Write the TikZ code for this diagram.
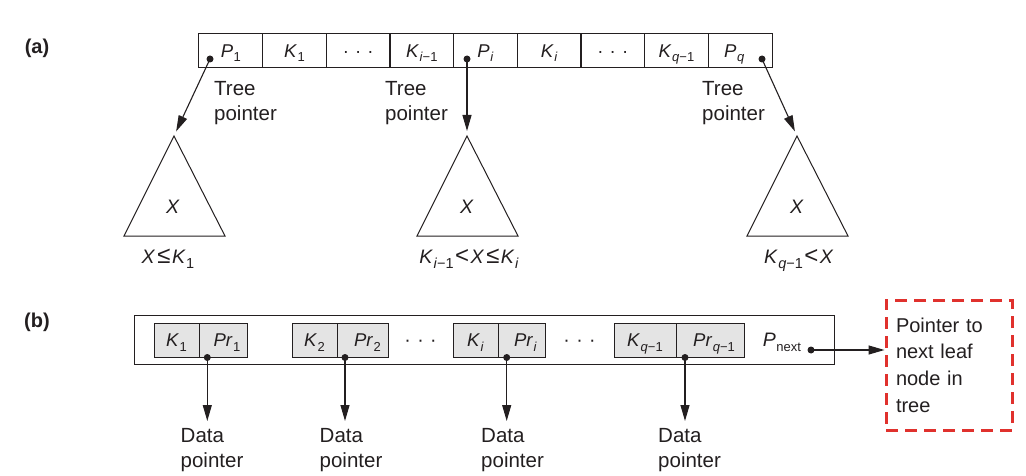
\documentclass[tikz,border=0pt]{standalone}
\usepackage{fontspec}
\setmainfont{Liberation Sans}
\usetikzlibrary{arrows.meta}
\definecolor{lc}{HTML}{231F20}
\definecolor{cellgray}{HTML}{E4E4E4}
\definecolor{redd}{HTML}{E0312D}
\newcommand{\sbs}[1]{\raisebox{-4.5pt}{\fontsize{13}{13}\selectfont #1}}
\newcommand{\sbl}[1]{\raisebox{-5pt}{\fontsize{14.5}{14.5}\selectfont #1}}
\newcommand{\vv}[1]{\textit{#1}\kern0.5pt}
\newcommand{\rl}[1]{\kern1.5pt{\fontsize{24}{24}\selectfont #1}\kern1.5pt}
\begin{document}
\begin{tikzpicture}[x=1pt,y=-1pt,
  cellA/.style={draw=lc, line width=1pt, minimum width=63.67pt, minimum height=33.7pt,
    inner sep=0pt, outer sep=0pt, text=lc, font=\fontsize{18.5}{18.5}\selectfont,
    text height=13.2pt, text depth=0pt},
  cellB/.style={draw=lc, fill=cellgray, line width=1pt, minimum height=34pt,
    inner sep=0pt, outer sep=0pt, text=lc, font=\fontsize{18.5}{18.5}\selectfont,
    text height=13.2pt, text depth=0pt},
  dotn/.style={circle, fill=lc, inner sep=0pt, minimum size=7pt},
  ptr/.style={draw=lc, line width=1.1pt, -{Triangle[length=16pt,width=9pt]}},
  lbl/.style={align=left, anchor=north west, inner sep=0pt, text=lc,
    font=\fontsize{20.5}{25}\selectfont},
  mathl/.style={inner sep=0pt, text=lc, font=\fontsize{19.5}{19.5}\selectfont},
  tri/.style={draw=lc, line width=1pt},
  partl/.style={inner sep=0pt, text=lc, font=\fontsize{20}{20}\selectfont\bfseries},
  nextbox/.style={draw=redd, line width=3pt, dash pattern=on 12pt off 7pt,
    minimum width=126pt, minimum height=130pt, inner sep=0pt, text width=106pt,
    align=left, text=lc, font=\fontsize{20}{26.6}\selectfont}
]
\useasboundingbox (0,0) rectangle (1026,476);

% ---------- (a) ----------
\node[partl] (la) at (37,48) {(a)};
\node[cellA] (a1) at (230.8,50.85) {\vv{P}\sbs{1}};
\node[cellA] (a2) at (294.5,50.85) {\vv{K}\sbs{1}};
\node[cellA] (a3) at (358.2,50.85) {·\,\,·\,\,·};
\node[cellA] (a4) at (421.8,50.85) {\vv{K}\sbs{\textit{i}−1}};
\node[cellA] (a5) at (485.5,50.85) {\vv{P}\sbs{\textit{i}}};
\node[cellA] (a6) at (549.2,50.85) {\vv{K}\sbs{\textit{i}}};
\node[cellA] (a7) at (612.8,50.85) {·\,\,·\,\,·};
\node[cellA] (a8) at (676.5,50.85) {\vv{K}\sbs{\textit{q}−1}};
\node[cellA] (a9) at (740.2,50.85) {\vv{P}\sbs{\textit{q}}\hspace*{12pt}};

\node[dotn] (d1) at (210,59) {};
\node[dotn] (di) at (467,59) {};
\node[dotn] (dq) at (762,59) {};

\node[lbl] (tp1) at (214,80.7) {Tree\\pointer};
\node[lbl] (tp2) at (385,80.7) {Tree\\pointer};
\node[lbl] (tp3) at (702,80.7) {Tree\\pointer};

\coordinate (t1) at (174,136);
\coordinate (t2) at (467,136);
\coordinate (t3) at (797,136);
\draw[tri] (t1) -- (124,236) -- (225,236) -- cycle;
\draw[tri] (t2) -- (417,236) -- (518,236) -- cycle;
\draw[tri] (t3) -- (747,236) -- (848,236) -- cycle;

\draw[ptr, shorten >=5pt] (d1.center) -- (t1);
\draw[ptr, shorten >=5pt] (di.center) -- (t2);
\draw[ptr, shorten >=5pt] (dq.center) -- (t3);

\node[mathl] (x1) at (173,207) {\textit{X}};
\node[mathl] (x2) at (467,207) {\textit{X}};
\node[mathl] (x3) at (797,207) {\textit{X}};

\node[mathl, anchor=base] (r1) at (168,263) {\vv{X}\rl{≤}\vv{K}\sbl{1}};
\node[mathl, anchor=base] (r2) at (469,263) {\vv{K}\sbl{\textit{i}−1}\rl{<}\vv{X}\rl{≤}\vv{K}\sbl{\textit{i}}};
\node[mathl, anchor=base] (r3) at (799,263) {\vv{K}\sbl{\textit{q}−1}\rl{<}\vv{X}};

% ---------- (b) ----------
\node[partl] (lb) at (37,322) {(b)};
\node[draw=lc, line width=1pt, minimum width=700pt, minimum height=49pt,
  inner sep=0pt, outer sep=0pt] (leaf) at (484,339.5) {};

\node[cellB, minimum width=45pt] (k1) at (176.5,340) {\vv{K}\sbs{1}};
\node[cellB, minimum width=48pt] (p1) at (223,340) {\hspace*{8pt}\vv{Pr}\sbs{1}};
\node[cellB, minimum width=45pt] (k2) at (314.5,340) {\vv{K}\sbs{2}};
\node[cellB, minimum width=51pt] (p2) at (362.5,340) {\hspace*{10pt}\vv{Pr}\sbs{2}};
\node[cellB, minimum width=45pt] (ki) at (475.5,340) {\vv{K}\sbs{\textit{i}}};
\node[cellB, minimum width=47pt] (pi) at (521.5,340) {\hspace*{8pt}\vv{Pr}\sbs{\textit{i}}};
\node[cellB, minimum width=62pt] (kq) at (645,340) {\vv{K}\sbs{\textit{q}−1}};
\node[cellB, minimum width=68pt] (pq) at (710,340) {\hspace*{8pt}\vv{Pr}\sbs{\textit{q}−1}};

\node[mathl, anchor=base] (e1) at (420.5,346.5) {·\,\,·\,\,·};
\node[mathl, anchor=base] (e2) at (579.5,346.5) {·\,\,·\,\,·};

\node[mathl, anchor=base] (pn) at (782,346.5) {\vv{P}\sbs{next}};

\node[dotn] (b1) at (207.3,357.5) {};
\node[dotn] (b2) at (345,357.5) {};
\node[dotn] (b3) at (506.7,357.5) {};
\node[dotn] (b4) at (685,357.5) {};
\node[dotn] (dn) at (811,350) {};

\coordinate (q1) at (207.3,421);
\coordinate (q2) at (345,421);
\coordinate (q3) at (506.7,421);
\coordinate (q4) at (685,421);
\draw[ptr] (b1.center) -- (q1);
\draw[ptr] (b2.center) -- (q2);
\draw[ptr] (b3.center) -- (q3);
\draw[ptr] (b4.center) -- (q4);

\node[lbl] (dp1) at (180.5,427.7) {Data\\pointer};
\node[lbl] (dp2) at (319.5,427.7) {Data\\pointer};
\node[lbl] (dp3) at (481,427.7) {Data\\pointer};
\node[lbl] (dp4) at (658,427.7) {Data\\pointer};

\node[nextbox] (nb) at (949,365) {Pointer to\\next leaf\\node in\\tree};
\draw[ptr] (dn.center) -- (dn -| nb.west);
\end{tikzpicture}
\end{document}
